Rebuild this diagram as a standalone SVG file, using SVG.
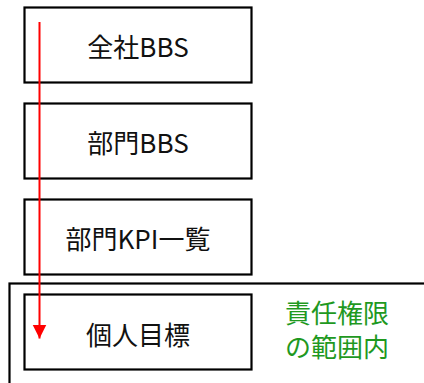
<svg xmlns="http://www.w3.org/2000/svg" width="424" height="383" viewBox="0 0 424 383">
<style>
.box{fill:#fff;stroke:#000;stroke-width:2.2}
.lbl{font-family:"Noto Sans CJK JP","Noto Sans",sans-serif;font-size:26px;fill:#111;text-anchor:middle;dominant-baseline:central}
.note{font-family:"Noto Sans CJK JP","Noto Sans",sans-serif;font-size:26px;fill:#1f991f;dominant-baseline:central}
</style>
<defs>
<marker id="ah" viewBox="0 0 14 15" refX="14" refY="7" markerWidth="14" markerHeight="15" markerUnits="userSpaceOnUse" orient="auto">
<path d="M0,0 L14,7 L0,14 Z" fill="#ff0000"/>
</marker>
</defs>
<g id="scope">
<rect x="9.5" y="283.5" width="430" height="120" fill="none" stroke="#000" stroke-width="2.2"/>
</g>
<g id="n1"><rect class="box" x="24.5" y="7.5" width="227" height="75"/><text class="lbl" x="138" y="45">全社BBS</text></g>
<g id="n2"><rect class="box" x="24.5" y="103.5" width="227" height="75"/><text class="lbl" x="138" y="141">部門BBS</text></g>
<g id="n3"><rect class="box" x="24.5" y="199.5" width="227" height="75"/><text class="lbl" x="138" y="237">部門KPI一覧</text></g>
<g id="n4"><rect class="box" x="24.5" y="294.5" width="227" height="75"/><text class="lbl" x="138" y="333">個人目標</text></g>
<g id="note"><text class="note" x="285" y="311">責任権限</text><text class="note" x="285" y="345">の範囲内</text></g>
<g id="connectors">
<line x1="39.5" y1="22" x2="39.5" y2="338.5" stroke="#ff0000" stroke-width="2" marker-end="url(#ah)"/>
</g>
</svg>
